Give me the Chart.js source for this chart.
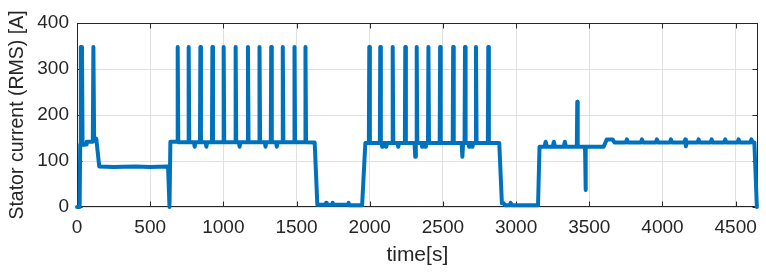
<!DOCTYPE html>
<html>
<head>
<meta charset="utf-8">
<script src="https://cdn.jsdelivr.net/npm/chart.js@4"></script>
<style>
  html, body { margin: 0; padding: 0; background: #fff; }
</style>
</head>
<body>
<canvas id="myChart" width="766" height="273"></canvas>
<script>
// values, [time s, current A]
// startup + first load step
const phase1 = [
  [0, 0], [18, 0], [22, 136], [26, 348], [30, 140], [34, 348], [38, 136],
  [44, 135], [62, 136], [66, 142], [108, 142], [112, 348], [117, 152],
  [124, 150], [132, 148], [152, 88], [250, 87], [400, 88], [500, 87],
  [622, 88], [626, 88], [632, 0], [638, 142]
];
// first spike train
const phase2 = [
  [685, 142], [688, 348], [692, 141], [760, 141], [763, 348], [767, 141],
  [799, 141], [804, 131], [809, 141], [840, 141], [843, 348], [847, 141],
  [879, 141], [884, 131], [889, 141], [922, 141], [925, 348], [929, 141],
  [999, 141], [1002, 348], [1006, 141], [1081, 141], [1084, 348], [1088, 141],
  [1106, 141], [1111, 131], [1116, 141], [1165, 141], [1168, 348], [1172, 141],
  [1244, 141], [1247, 348], [1251, 141], [1283, 141], [1288, 131], [1293, 141],
  [1324, 141], [1327, 348], [1331, 141], [1360, 141], [1365, 131], [1370, 141],
  [1403, 141], [1406, 348], [1410, 141], [1483, 141], [1486, 348], [1490, 141],
  [1558, 141], [1561, 348], [1565, 141], [1624, 140], [1642, 5]
];
// idle
const phase3 = [
  [1700, 5], [1702, 9], [1706, 5], [1745, 5], [1747, 9], [1751, 5],
  [1854, 5], [1856, 9], [1860, 4], [1948, 4], [1970, 139]
];
// second spike train
const phase4 = [
  [1994, 139], [1997, 348], [2001, 139], [2069, 139], [2072, 348], [2076, 139],
  [2080, 139], [2085, 131], [2090, 139], [2108, 139], [2113, 131], [2118, 139],
  [2154, 139], [2157, 348], [2161, 139], [2190, 139], [2195, 131], [2200, 139],
  [2240, 139], [2243, 348], [2247, 139], [2306, 139], [2311, 109], [2315, 139],
  [2318, 139], [2321, 348], [2325, 139], [2353, 139], [2358, 131], [2363, 139],
  [2374, 139], [2379, 131], [2384, 139], [2398, 139], [2401, 348], [2405, 139],
  [2478, 139], [2481, 348], [2485, 139], [2567, 139], [2570, 348], [2574, 139],
  [2628, 139], [2633, 109], [2638, 139], [2648, 139], [2651, 348], [2655, 139],
  [2674, 139], [2679, 131], [2684, 139], [2697, 139], [2702, 131], [2707, 139],
  [2723, 139], [2726, 348], [2730, 139], [2807, 139], [2810, 348], [2814, 139],
  [2885, 139], [2903, 8]
];
// idle
const phase5 = [
  [2915, 8], [2925, 4], [2958, 4], [2963, 9], [2968, 4], [3150, 4], [3160, 131]
];
// last part, steady load
const phase6 = [
  [3194, 131], [3202, 142], [3210, 131], [3250, 131], [3258, 142], [3266, 131],
  [3325, 131], [3333, 142], [3341, 131], [3415, 131], [3418, 229], [3421, 131],
  [3471, 131], [3474, 37], [3477, 131], [3598, 131], [3620, 147], [3660, 147],
  [3672, 140], [3749, 140], [3757, 147], [3765, 140], [3852, 140], [3860, 147],
  [3868, 140], [3954, 140], [3962, 147], [3970, 140], [4050, 140], [4058, 147],
  [4066, 140], [4148, 140], [4156, 147], [4160, 132], [4166, 140], [4239, 140],
  [4247, 147], [4255, 140], [4328, 140], [4336, 147], [4344, 140], [4421, 140],
  [4429, 147], [4437, 140], [4512, 140], [4520, 147], [4528, 140], [4600, 140],
  [4608, 147], [4616, 140], [4628, 140], [4645, 0]
];

const xTicks = [0, 500, 1000, 1500, 2000, 2500, 3000, 3500, 4000, 4500];
const yTicks = [0, 100, 200, 300, 400];

const points = phase1.concat(phase2, phase3, phase4, phase5, phase6)
  .map(p => ({ x: p[0], y: p[1] }));

const fontFam = '"Liberation Sans", Arial, Helvetica, sans-serif';
const textCol = '#262626';

// matlab style box + inward tick marks
const matlabAxes = {
  id: 'matlabAxes',
  beforeDatasetsDraw(chart) {
    const { ctx, chartArea: a, scales } = chart;
    const L = Math.round(a.left) + 0.5, R = Math.round(a.right) - 0.5;
    const T = Math.round(a.top) + 0.5, B = Math.round(a.bottom) - 0.5;
    const len = 5;
    ctx.save();
    ctx.strokeStyle = '#262626';
    ctx.lineWidth = 1;
    ctx.beginPath();
    xTicks.forEach(v => {
      const px = Math.round(scales.x.getPixelForValue(v)) + 0.5;
      ctx.moveTo(px, B); ctx.lineTo(px, B - len);
      ctx.moveTo(px, T); ctx.lineTo(px, T + len);
    });
    yTicks.forEach(v => {
      const py = Math.round(scales.y.getPixelForValue(v)) + 0.5;
      ctx.moveTo(L, py); ctx.lineTo(L + len, py);
      ctx.moveTo(R, py); ctx.lineTo(R - len, py);
    });
    ctx.stroke();
    ctx.strokeRect(L, T, R - L, B - T);
    ctx.restore();
  }
};

const ctx = document.getElementById('myChart').getContext('2d');
const myChart = new Chart(ctx, {
  type: 'line',
  data: {
    datasets: [{
      data: points,
      borderColor: '#0072BD',
      borderWidth: 4,
      borderJoinStyle: 'round',
      borderCapStyle: 'round',
      pointRadius: 0,
      tension: 0,
      fill: false,
      clip: false
    }]
  },
  options: {
    responsive: false,
    animation: false,
    devicePixelRatio: 1,
    layout: { padding: { top: 23, right: 7, left: 0, bottom: 0 } },
    plugins: { legend: { display: false }, tooltip: { enabled: false } },
    scales: {
      x: {
        type: 'linear',
        min: 0,
        max: 4650,
        afterBuildTicks: s => { s.ticks = xTicks.map(v => ({ value: v })); },
        afterFit: s => { s.height = 66; },
        ticks: {
          color: textCol,
          font: { family: fontFam, size: 19 },
          padding: 9,
          maxRotation: 0,
          autoSkip: false,
          callback: v => String(v)
        },
        grid: { color: '#e0e0e0', drawTicks: false },
        border: { display: false },
        title: {
          display: true,
          text: 'time[s]',
          color: textCol,
          font: { family: fontFam, size: 21 },
          padding: { top: 0, bottom: 5 }
        }
      },
      y: {
        type: 'linear',
        min: 0,
        max: 400,
        afterBuildTicks: s => { s.ticks = yTicks.map(v => ({ value: v })); },
        afterFit: s => { s.width = 77; },
        ticks: {
          color: textCol,
          font: { family: fontFam, size: 19 },
          padding: 8,
          callback: v => String(v)
        },
        grid: { color: '#e0e0e0', drawTicks: false },
        border: { display: false },
        title: {
          display: true,
          text: 'Stator current (RMS) [A]',
          color: textCol,
          font: { family: fontFam, size: 19.5 },
          padding: { top: 6, bottom: 0 }
        }
      }
    }
  },
  plugins: [matlabAxes]
});
</script>
</body>
</html>
